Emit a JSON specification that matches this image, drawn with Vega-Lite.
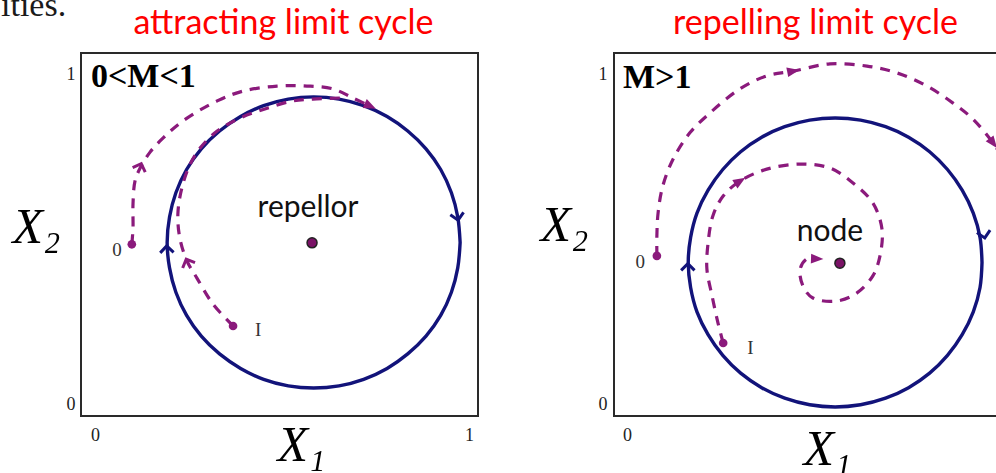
{
  "$schema": "https://vega.github.io/schema/vega-lite/v6.json",
  "background": "white",
  "padding": {"left": 0, "top": -12, "right": 0, "bottom": 0},
  "spacing": 60,
  "config": {
    "view": {"stroke": "#2a2a2a", "strokeWidth": 2},
    "axis": {"grid": false, "ticks": false, "domain": false, "format": "d", "labelFont": "Liberation Serif", "labelFontSize": 18, "labelColor": "#222", "titleFont": "Liberation Serif", "titleFontStyle": "italic", "titleFontWeight": "normal", "titleFontSize": 50, "titleColor": "#000"}
  },
  "datasets": {
    "cycleL": [
      {"i": 0, "x": 0.955, "y": 0.478}, {"i": 1, "x": 0.949, "y": 0.548}, {"i": 2, "x": 0.933, "y": 0.615}, {"i": 3, "x": 0.906, "y": 0.679},
      {"i": 4, "x": 0.869, "y": 0.736}, {"i": 5, "x": 0.823, "y": 0.785}, {"i": 6, "x": 0.771, "y": 0.825}, {"i": 7, "x": 0.712, "y": 0.855},
      {"i": 8, "x": 0.650, "y": 0.873}, {"i": 9, "x": 0.586, "y": 0.879}, {"i": 10, "x": 0.522, "y": 0.873}, {"i": 11, "x": 0.460, "y": 0.855},
      {"i": 12, "x": 0.402, "y": 0.825}, {"i": 13, "x": 0.349, "y": 0.785}, {"i": 14, "x": 0.303, "y": 0.736}, {"i": 15, "x": 0.266, "y": 0.679},
      {"i": 16, "x": 0.239, "y": 0.615}, {"i": 17, "x": 0.223, "y": 0.548}, {"i": 18, "x": 0.217, "y": 0.478}, {"i": 19, "x": 0.223, "y": 0.408},
      {"i": 20, "x": 0.239, "y": 0.341}, {"i": 21, "x": 0.266, "y": 0.277}, {"i": 22, "x": 0.303, "y": 0.220}, {"i": 23, "x": 0.349, "y": 0.171},
      {"i": 24, "x": 0.402, "y": 0.131}, {"i": 25, "x": 0.460, "y": 0.101}, {"i": 26, "x": 0.522, "y": 0.083}, {"i": 27, "x": 0.586, "y": 0.077},
      {"i": 28, "x": 0.650, "y": 0.083}, {"i": 29, "x": 0.712, "y": 0.101}, {"i": 30, "x": 0.771, "y": 0.131}, {"i": 31, "x": 0.823, "y": 0.171},
      {"i": 32, "x": 0.869, "y": 0.220}, {"i": 33, "x": 0.906, "y": 0.277}, {"i": 34, "x": 0.933, "y": 0.341}, {"i": 35, "x": 0.949, "y": 0.408},
      {"i": 36, "x": 0.955, "y": 0.478}
    ],
    "trajL": [
      {"path": "0", "i": 0, "x": 0.128, "y": 0.473}, {"path": "0", "i": 1, "x": 0.131, "y": 0.518}, {"path": "0", "i": 2, "x": 0.131, "y": 0.584},
      {"path": "0", "i": 3, "x": 0.136, "y": 0.647}, {"path": "0", "i": 4, "x": 0.149, "y": 0.683}, {"path": "0", "i": 5, "x": 0.174, "y": 0.727},
      {"path": "0", "i": 6, "x": 0.207, "y": 0.766}, {"path": "0", "i": 7, "x": 0.257, "y": 0.813}, {"path": "0", "i": 8, "x": 0.343, "y": 0.868},
      {"path": "0", "i": 9, "x": 0.408, "y": 0.895}, {"path": "0", "i": 10, "x": 0.494, "y": 0.909}, {"path": "0", "i": 11, "x": 0.569, "y": 0.909},
      {"path": "0", "i": 12, "x": 0.635, "y": 0.901}, {"path": "0", "i": 13, "x": 0.685, "y": 0.876}, {"path": "0", "i": 14, "x": 0.728, "y": 0.854},
      {"path": "I", "i": 0, "x": 0.383, "y": 0.248}, {"path": "I", "i": 1, "x": 0.332, "y": 0.309}, {"path": "I", "i": 2, "x": 0.292, "y": 0.380},
      {"path": "I", "i": 3, "x": 0.267, "y": 0.427}, {"path": "I", "i": 4, "x": 0.249, "y": 0.490}, {"path": "I", "i": 5, "x": 0.244, "y": 0.556},
      {"path": "I", "i": 6, "x": 0.254, "y": 0.628}, {"path": "I", "i": 7, "x": 0.275, "y": 0.694}, {"path": "I", "i": 8, "x": 0.300, "y": 0.738},
      {"path": "I", "i": 9, "x": 0.343, "y": 0.785}, {"path": "I", "i": 10, "x": 0.401, "y": 0.821}, {"path": "I", "i": 11, "x": 0.469, "y": 0.848},
      {"path": "I", "i": 12, "x": 0.534, "y": 0.868}, {"path": "I", "i": 13, "x": 0.584, "y": 0.873}, {"path": "I", "i": 14, "x": 0.652, "y": 0.876}
    ],
    "dotsL": [
      {"x": 0.128, "y": 0.473, "kind": "start", "label": "0"},
      {"x": 0.383, "y": 0.248, "kind": "start", "label": "I"},
      {"x": 0.582, "y": 0.477, "kind": "fixed", "label": "repellor"}
    ],
    "arrowsL": [
      {"x": 0.216, "y": 0.463, "heading": 358, "curve": "limit cycle", "head": "open"},
      {"x": 0.949, "y": 0.545, "heading": 170, "curve": "limit cycle", "head": "open"},
      {"x": 0.150, "y": 0.690, "heading": 20, "curve": "trajectory", "head": "open"},
      {"x": 0.267, "y": 0.427, "heading": 337, "curve": "trajectory", "head": "open"},
      {"x": 0.728, "y": 0.854, "heading": 115, "curve": "trajectory", "head": "filled"}
    ],
    "labelsL": [{"x": 0, "y": 1, "regime": "0<M<1", "fragment": "ities."}],
    "headingL": [{"x": 0.5, "y": 1, "heading": "attracting limit cycle"}],
    "cycleR": [
      {"i": 0, "x": 0.927, "y": 0.423}, {"i": 1, "x": 0.922, "y": 0.492}, {"i": 2, "x": 0.905, "y": 0.559}, {"i": 3, "x": 0.877, "y": 0.622},
      {"i": 4, "x": 0.840, "y": 0.679}, {"i": 5, "x": 0.795, "y": 0.728}, {"i": 6, "x": 0.742, "y": 0.768}, {"i": 7, "x": 0.684, "y": 0.797},
      {"i": 8, "x": 0.621, "y": 0.815}, {"i": 9, "x": 0.557, "y": 0.821}, {"i": 10, "x": 0.493, "y": 0.815}, {"i": 11, "x": 0.430, "y": 0.797},
      {"i": 12, "x": 0.372, "y": 0.768}, {"i": 13, "x": 0.319, "y": 0.728}, {"i": 14, "x": 0.274, "y": 0.679}, {"i": 15, "x": 0.237, "y": 0.622},
      {"i": 16, "x": 0.209, "y": 0.559}, {"i": 17, "x": 0.193, "y": 0.492}, {"i": 18, "x": 0.187, "y": 0.423}, {"i": 19, "x": 0.193, "y": 0.354},
      {"i": 20, "x": 0.209, "y": 0.287}, {"i": 21, "x": 0.237, "y": 0.224}, {"i": 22, "x": 0.274, "y": 0.167}, {"i": 23, "x": 0.319, "y": 0.118},
      {"i": 24, "x": 0.372, "y": 0.078}, {"i": 25, "x": 0.430, "y": 0.049}, {"i": 26, "x": 0.493, "y": 0.031}, {"i": 27, "x": 0.557, "y": 0.025},
      {"i": 28, "x": 0.621, "y": 0.031}, {"i": 29, "x": 0.684, "y": 0.049}, {"i": 30, "x": 0.742, "y": 0.078}, {"i": 31, "x": 0.795, "y": 0.118},
      {"i": 32, "x": 0.840, "y": 0.167}, {"i": 33, "x": 0.877, "y": 0.224}, {"i": 34, "x": 0.905, "y": 0.287}, {"i": 35, "x": 0.922, "y": 0.354},
      {"i": 36, "x": 0.927, "y": 0.423}
    ],
    "trajR": [
      {"path": "0", "i": 0, "x": 0.108, "y": 0.441}, {"path": "0", "i": 1, "x": 0.108, "y": 0.496}, {"path": "0", "i": 2, "x": 0.111, "y": 0.559},
      {"path": "0", "i": 3, "x": 0.123, "y": 0.634}, {"path": "0", "i": 4, "x": 0.149, "y": 0.708}, {"path": "0", "i": 5, "x": 0.191, "y": 0.780},
      {"path": "0", "i": 6, "x": 0.242, "y": 0.835}, {"path": "0", "i": 7, "x": 0.317, "y": 0.901}, {"path": "0", "i": 8, "x": 0.385, "y": 0.937},
      {"path": "0", "i": 9, "x": 0.451, "y": 0.950}, {"path": "0", "i": 10, "x": 0.544, "y": 0.970}, {"path": "0", "i": 11, "x": 0.637, "y": 0.964},
      {"path": "0", "i": 12, "x": 0.713, "y": 0.945}, {"path": "0", "i": 13, "x": 0.788, "y": 0.909}, {"path": "0", "i": 14, "x": 0.854, "y": 0.862},
      {"path": "0", "i": 15, "x": 0.904, "y": 0.818}, {"path": "0", "i": 16, "x": 0.955, "y": 0.752}, {"path": "0", "i": 17, "x": 0.985, "y": 0.702},
      {"path": "I", "i": 0, "x": 0.275, "y": 0.201}, {"path": "I", "i": 1, "x": 0.262, "y": 0.256}, {"path": "I", "i": 2, "x": 0.247, "y": 0.331},
      {"path": "I", "i": 3, "x": 0.234, "y": 0.405}, {"path": "I", "i": 4, "x": 0.237, "y": 0.477}, {"path": "I", "i": 5, "x": 0.249, "y": 0.551},
      {"path": "I", "i": 6, "x": 0.275, "y": 0.606}, {"path": "I", "i": 7, "x": 0.317, "y": 0.647}, {"path": "I", "i": 8, "x": 0.385, "y": 0.680},
      {"path": "I", "i": 9, "x": 0.469, "y": 0.694}, {"path": "I", "i": 10, "x": 0.544, "y": 0.683}, {"path": "I", "i": 11, "x": 0.602, "y": 0.642},
      {"path": "I", "i": 12, "x": 0.652, "y": 0.587}, {"path": "I", "i": 13, "x": 0.675, "y": 0.515}, {"path": "I", "i": 14, "x": 0.670, "y": 0.441},
      {"path": "I", "i": 15, "x": 0.652, "y": 0.386}, {"path": "I", "i": 16, "x": 0.612, "y": 0.339}, {"path": "I", "i": 17, "x": 0.562, "y": 0.317},
      {"path": "I", "i": 18, "x": 0.501, "y": 0.325}, {"path": "I", "i": 19, "x": 0.476, "y": 0.358}, {"path": "I", "i": 20, "x": 0.469, "y": 0.405},
      {"path": "I", "i": 21, "x": 0.486, "y": 0.433}, {"path": "I", "i": 22, "x": 0.511, "y": 0.433}
    ],
    "dotsR": [
      {"x": 0.108, "y": 0.441, "kind": "start", "label": "0"},
      {"x": 0.275, "y": 0.201, "kind": "start", "label": "I"},
      {"x": 0.569, "y": 0.421, "kind": "fixed", "label": "node"}
    ],
    "arrowsR": [
      {"x": 0.186, "y": 0.414, "heading": 0, "curve": "limit cycle", "head": "open"},
      {"x": 0.933, "y": 0.496, "heading": 169, "curve": "limit cycle", "head": "open"},
      {"x": 0.451, "y": 0.950, "heading": 79, "curve": "trajectory", "head": "filled"},
      {"x": 0.955, "y": 0.752, "heading": 143, "curve": "trajectory", "head": "filled"},
      {"x": 0.317, "y": 0.647, "heading": 58, "curve": "trajectory", "head": "filled"},
      {"x": 0.511, "y": 0.433, "heading": 92, "curve": "trajectory", "head": "filled"}
    ],
    "labelsR": [{"x": 0, "y": 1, "regime": "M>1"}],
    "headingR": [{"x": 0.5, "y": 1, "heading": "repelling limit cycle"}]
  },
  "hconcat": [
    {
      "width": 397,
      "height": 363,
      "encoding": {
        "x": {"field": "x", "type": "quantitative", "scale": {"domain": [0, 1], "nice": false, "zero": false},
          "axis": {"values": [0, 1], "labelPadding": 10, "labelAlign": "center", "labelOffset": {"condition": {"test": "datum.value === 0", "value": 14}, "value": -9},
            "title": "X₁", "titleX": 196, "titleY": 44, "titleAlign": "left", "titleBaseline": "alphabetic"}},
        "y": {"field": "y", "type": "quantitative", "scale": {"domain": [0, 1], "nice": false, "zero": false},
          "axis": {"values": [0, 1], "labelPadding": 6, "labelBaseline": "middle", "labelOffset": {"condition": {"test": "datum.value === 1", "value": 21}, "value": -12},
            "title": "X₂", "titleAngle": 0, "titleX": -69, "titleY": 189, "titleAlign": "left", "titleBaseline": "alphabetic"}}
      },
      "layer": [
        {"data": {"name": "cycleL"}, "mark": {"type": "line", "color": "#12137a", "strokeWidth": 3.4, "interpolate": "catmull-rom"}, "encoding": {"order": {"field": "i", "type": "quantitative"}}},
        {"data": {"name": "trajL"}, "mark": {"type": "line", "color": "#8b1a7c", "strokeWidth": 3.2, "strokeDash": [10, 8], "interpolate": "catmull-rom"}, "encoding": {"detail": {"field": "path"}, "order": {"field": "i", "type": "quantitative"}}},
        {"data": {"name": "arrowsL"}, "transform": [{"filter": "datum.head === 'open' && datum.curve === 'limit cycle'"}], "mark": {"type": "point", "shape": "M-1,0.7L0,-0.3L1,0.7", "filled": false, "stroke": "#12137a", "strokeWidth": 3, "size": 180, "opacity": 1}, "encoding": {"angle": {"field": "heading", "type": "quantitative", "scale": {"domain": [0, 360], "range": [0, 360]}}}},
        {"data": {"name": "arrowsL"}, "transform": [{"filter": "datum.head === 'open' && datum.curve === 'trajectory'"}], "mark": {"type": "point", "shape": "M-1,0.7L0,-0.3L1,0.7", "filled": false, "stroke": "#8b1a7c", "strokeWidth": 3, "size": 180, "opacity": 1}, "encoding": {"angle": {"field": "heading", "type": "quantitative", "scale": {"domain": [0, 360], "range": [0, 360]}}}},
        {"data": {"name": "arrowsL"}, "transform": [{"filter": "datum.head === 'filled'"}], "mark": {"type": "point", "shape": "M0,-1L0.75,0.9L-0.75,0.9Z", "filled": true, "color": "#8b1a7c", "size": 170, "opacity": 1}, "encoding": {"angle": {"field": "heading", "type": "quantitative", "scale": {"domain": [0, 360], "range": [0, 360]}}}},
        {"data": {"name": "dotsL"}, "transform": [{"filter": "datum.kind === 'start'"}], "mark": {"type": "circle", "color": "#8b1a7c", "size": 75, "opacity": 1}},
        {"data": {"name": "dotsL"}, "transform": [{"filter": "datum.kind === 'fixed'"}], "mark": {"type": "circle", "fill": "#7a1266", "stroke": "#222", "strokeWidth": 1.5, "size": 100, "opacity": 1}},
        {"data": {"name": "dotsL"}, "transform": [{"filter": "datum.kind === 'fixed'"}], "mark": {"type": "text", "font": "Lato", "fontSize": 30, "color": "#111", "align": "center", "baseline": "alphabetic", "dx": -4, "dy": -26}, "encoding": {"text": {"field": "label"}}},
        {"data": {"name": "dotsL"}, "transform": [{"filter": "datum.label === '0'"}], "mark": {"type": "text", "font": "Liberation Serif", "fontSize": 19, "color": "#333", "align": "right", "baseline": "alphabetic", "dx": -10, "dy": 12}, "encoding": {"text": {"field": "label"}}},
        {"data": {"name": "dotsL"}, "transform": [{"filter": "datum.label === 'I'"}], "mark": {"type": "text", "font": "Liberation Serif", "fontSize": 19, "color": "#333", "align": "left", "baseline": "alphabetic", "dx": 22, "dy": 10}, "encoding": {"text": {"field": "label"}}},
        {"data": {"name": "labelsL"}, "mark": {"type": "text", "font": "Liberation Serif", "fontSize": 34, "fontWeight": "bold", "color": "#000", "align": "left", "baseline": "alphabetic", "dx": 10, "dy": 34}, "encoding": {"text": {"field": "regime"}}},
        {"data": {"name": "labelsL"}, "mark": {"type": "text", "font": "Liberation Serif", "fontSize": 34, "color": "#1a1a1a", "align": "left", "baseline": "alphabetic", "dx": -80, "dy": -37}, "encoding": {"text": {"field": "fragment"}}},
        {"data": {"name": "headingL"}, "mark": {"type": "text", "font": "Lato", "fontSize": 34, "color": "#ff0000", "align": "center", "baseline": "alphabetic", "dx": 4, "dy": -19}, "encoding": {"text": {"field": "heading"}}}
      ]
    },
    {
      "width": 397,
      "height": 363,
      "encoding": {
        "x": {"field": "x", "type": "quantitative", "scale": {"domain": [0, 1], "nice": false, "zero": false},
          "axis": {"values": [0, 1], "labelPadding": 10, "labelAlign": "center", "labelOffset": {"condition": {"test": "datum.value === 0", "value": 13}, "value": -9},
            "title": "X₁", "titleX": 189, "titleY": 48, "titleAlign": "left", "titleBaseline": "alphabetic"}},
        "y": {"field": "y", "type": "quantitative", "scale": {"domain": [0, 1], "nice": false, "zero": false},
          "axis": {"values": [0, 1], "labelPadding": 7, "labelBaseline": "middle", "labelOffset": {"condition": {"test": "datum.value === 1", "value": 21}, "value": -12},
            "title": "X₂", "titleAngle": 0, "titleX": -74, "titleY": 187, "titleAlign": "left", "titleBaseline": "alphabetic"}}
      },
      "layer": [
        {"data": {"name": "cycleR"}, "mark": {"type": "line", "color": "#12137a", "strokeWidth": 3.4, "interpolate": "catmull-rom"}, "encoding": {"order": {"field": "i", "type": "quantitative"}}},
        {"data": {"name": "trajR"}, "mark": {"type": "line", "color": "#8b1a7c", "strokeWidth": 3.2, "strokeDash": [10, 8], "interpolate": "catmull-rom"}, "encoding": {"detail": {"field": "path"}, "order": {"field": "i", "type": "quantitative"}}},
        {"data": {"name": "arrowsR"}, "transform": [{"filter": "datum.head === 'open' && datum.curve === 'limit cycle'"}], "mark": {"type": "point", "shape": "M-1,0.7L0,-0.3L1,0.7", "filled": false, "stroke": "#12137a", "strokeWidth": 3, "size": 180, "opacity": 1}, "encoding": {"angle": {"field": "heading", "type": "quantitative", "scale": {"domain": [0, 360], "range": [0, 360]}}}},
        {"data": {"name": "arrowsR"}, "transform": [{"filter": "datum.head === 'filled'"}], "mark": {"type": "point", "shape": "M0,-1L0.75,0.9L-0.75,0.9Z", "filled": true, "color": "#8b1a7c", "size": 170, "opacity": 1}, "encoding": {"angle": {"field": "heading", "type": "quantitative", "scale": {"domain": [0, 360], "range": [0, 360]}}}},
        {"data": {"name": "dotsR"}, "transform": [{"filter": "datum.kind === 'start'"}], "mark": {"type": "circle", "color": "#8b1a7c", "size": 75, "opacity": 1}},
        {"data": {"name": "dotsR"}, "transform": [{"filter": "datum.kind === 'fixed'"}], "mark": {"type": "circle", "fill": "#7a1266", "stroke": "#222", "strokeWidth": 1.5, "size": 100, "opacity": 1}},
        {"data": {"name": "dotsR"}, "transform": [{"filter": "datum.kind === 'fixed'"}], "mark": {"type": "text", "font": "Lato", "fontSize": 30, "color": "#111", "align": "center", "baseline": "alphabetic", "dx": -10, "dy": -22}, "encoding": {"text": {"field": "label"}}},
        {"data": {"name": "dotsR"}, "transform": [{"filter": "datum.label === '0'"}], "mark": {"type": "text", "font": "Liberation Serif", "fontSize": 19, "color": "#333", "align": "right", "baseline": "alphabetic", "dx": -12, "dy": 12}, "encoding": {"text": {"field": "label"}}},
        {"data": {"name": "dotsR"}, "transform": [{"filter": "datum.label === 'I'"}], "mark": {"type": "text", "font": "Liberation Serif", "fontSize": 19, "color": "#333", "align": "left", "baseline": "alphabetic", "dx": 24, "dy": 11}, "encoding": {"text": {"field": "label"}}},
        {"data": {"name": "labelsR"}, "mark": {"type": "text", "font": "Liberation Serif", "fontSize": 34, "fontWeight": "bold", "color": "#000", "align": "left", "baseline": "alphabetic", "dx": 9, "dy": 35}, "encoding": {"text": {"field": "regime"}}},
        {"data": {"name": "headingR"}, "mark": {"type": "text", "font": "Lato", "fontSize": 34, "color": "#ff0000", "align": "center", "baseline": "alphabetic", "dx": 3, "dy": -19}, "encoding": {"text": {"field": "heading"}}}
      ]
    }
  ]
}
